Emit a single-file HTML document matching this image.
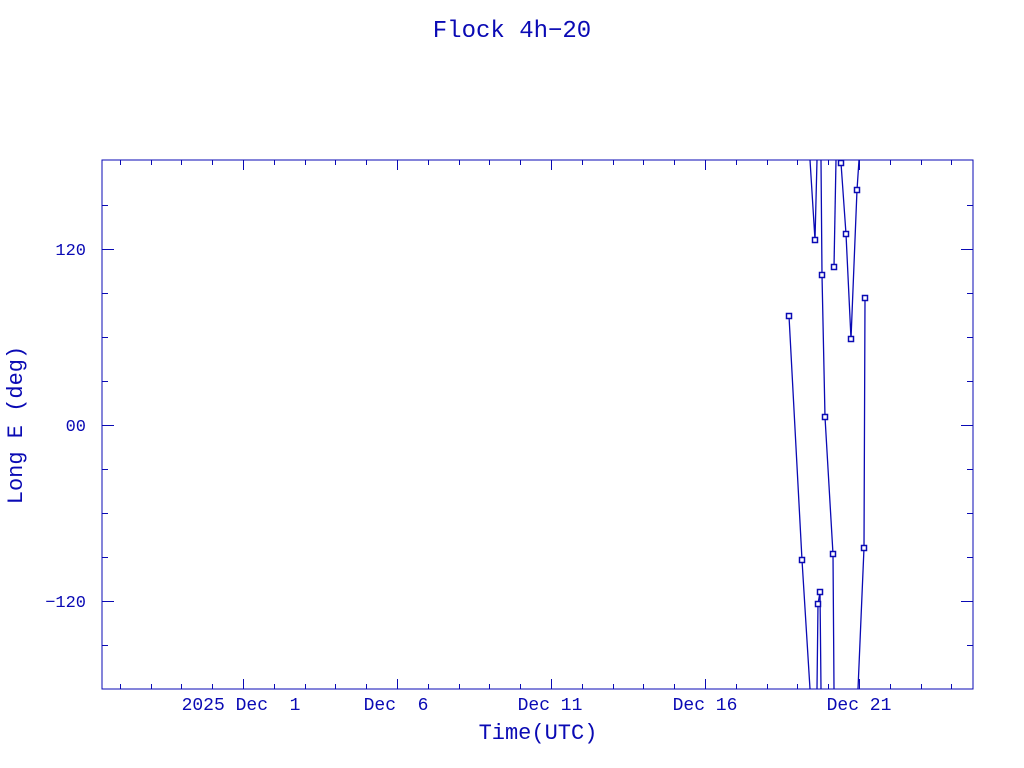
<!DOCTYPE html>
<html><head><meta charset="utf-8"><style>
html,body{margin:0;padding:0;background:#fff;}
svg{display:block;}
text{font-family:"Liberation Mono",monospace;fill:#0a0ab4;}
</style></head><body>
<svg id="s" width="1024" height="768" xmlns="http://www.w3.org/2000/svg">
<text x="512" y="37" font-size="24" text-anchor="middle">Flock 4h−20</text>
<rect x="102" y="160" width="871" height="529" fill="none" stroke="#0a0ab4" stroke-width="1"/>
<g font-size="17" text-anchor="end">
<text x="86" y="255">120</text>
<text x="86" y="431">00</text>
<text x="86" y="607">−120</text>
</g>
<g font-size="18" text-anchor="middle">
<text x="241" y="710">2025 Dec&#160;&#160;1</text>
<text x="396" y="710">Dec&#160;&#160;6</text>
<text x="550" y="710">Dec 11</text>
<text x="705" y="710">Dec 16</text>
<text x="859" y="710">Dec 21</text>
</g>
<text x="538" y="739" font-size="22" text-anchor="middle">Time(UTC)</text>
<text transform="translate(22,425) rotate(-90)" font-size="22" text-anchor="middle">Long E (deg)</text>
<g id="ticks" stroke="#0a0ab4" stroke-width="1" fill="none"></g>
<clipPath id="c"><rect x="102" y="160" width="871" height="529"/></clipPath>
<g clip-path="url(#c)" stroke="#0a0ab4" stroke-width="1.3" fill="none">
<polyline points="789,316 802,560 810,689"/>
<polyline points="810,160 815,240 817,160"/>
<polyline points="817,689 818,604 820,592 821,689"/>
<polyline points="821,160 822,275 825,417 833,554 834,689"/>
<polyline points="836,160 834,267"/>
<polyline points="839,160 841,163 846,234 851,339 857,190 859,160"/>
<polyline points="858,689 864,548 865,298"/>
</g>
<g id="m" fill="#fff" stroke="#0a0ab4" stroke-width="1.5"></g>
</svg>
<script>
var t=document.getElementById('ticks'),d='';
for(var i=-4;i<24;i++){var x=243+30.8*i;if(x>=973)break;var X=Math.round(x)+0.5;var maj=(i%5==0);var L=maj?10:5;d+='M'+X+' 689v-'+L+'M'+X+' 160v'+L;}
for(var y=205;y<689;y+=44){var Y=Math.round(y)+0.5;var maj=(y==249||y==425||y==601);var L=maj?12:6;d+='M102 '+Y+'h'+L+'M973 '+Y+'h-'+L;}
var p=document.createElementNS('http://www.w3.org/2000/svg','path');p.setAttribute('d',d);t.appendChild(p);
var pts=[[789,316],[802,560],[815,240],[818,604],[820,592],[822,275],[825,417],[833,554],[834,267],[841,163],[846,234],[851,339],[857,190],[864,548],[865,298]];
var m=document.getElementById('m');
pts.forEach(function(q){var r=document.createElementNS('http://www.w3.org/2000/svg','rect');r.setAttribute('x',q[0]-2.5);r.setAttribute('y',q[1]-2.5);r.setAttribute('width',5);r.setAttribute('height',5);m.appendChild(r);});
</script>
</body></html>
